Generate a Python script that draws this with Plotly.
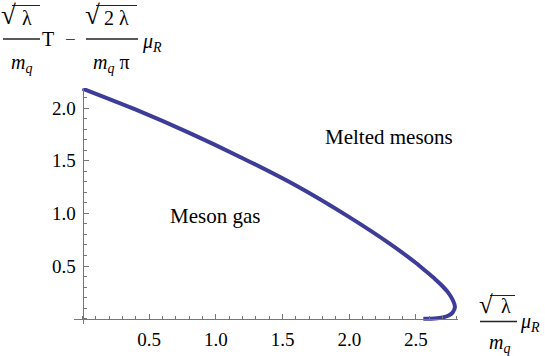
import plotly.graph_objects as go

# phase boundary
mu_r = [0.0, 0.4, 0.8, 1.2, 1.6, 2.0, 2.3, 2.5, 2.575, 2.64, 2.69, 2.74, 2.775, 2.792, 2.775, 2.745, 2.70, 2.64, 2.555]
temp = [2.184, 1.984, 1.764, 1.524, 1.264, 0.964, 0.715, 0.529, 0.45, 0.38, 0.32, 0.25, 0.18, 0.11, 0.06, 0.03, 0.012, 0.003, 0.0]

x_ticks = [0.5, 1.0, 1.5, 2.0, 2.5]
y_ticks = [0.5, 1.0, 1.5, 2.0]

W, H = 545, 356
L, T, PW, PH = 74, 88, 384, 236
X_RANGE = [-0.064, 2.815]
Y_RANGE = [-0.05, 2.19]

SERIF = "Liberation Serif"
LINE_COLOR = "#3d3d99"
AXIS_COLOR = "#777777"


def px(xp):
    return (xp - L) / PW


def py(yp):
    return (T + PH - yp) / PH


def label(fig, text, x, y, size=19, color="black"):
    fig.add_annotation(x=px(x), y=py(y), xref="paper", yref="paper", text=text,
                       showarrow=False, xanchor="center", yanchor="middle",
                       font=dict(family=SERIF, size=size, color=color))


def hline(fig, x0, x1, y, width=1.3):
    fig.add_shape(type="line", xref="paper", yref="paper",
                  x0=px(x0), x1=px(x1), y0=py(y), y1=py(y),
                  line=dict(color="#222222", width=width))


fig = go.Figure()
fig.add_trace(go.Scatter(x=mu_r, y=temp, mode="lines",
                         line=dict(color=LINE_COLOR, width=4, shape="spline", smoothing=0.6),
                         cliponaxis=False, hoverinfo="skip"))

axis_common = dict(showgrid=False, zeroline=False, showline=True, linecolor=AXIS_COLOR, linewidth=1,
                   ticks="inside", ticklen=5, tickcolor=AXIS_COLOR, tickwidth=1,
                   tickfont=dict(family=SERIF, size=19, color="black"),
                   tickmode="array", tickformat=".1f", automargin=False,
                   minor=dict(ticks="inside", ticklen=3, tickcolor=AXIS_COLOR, dtick=0.1, tick0=0))

fig.update_xaxes(range=X_RANGE, tickvals=x_ticks, anchor="free",
                 position=-Y_RANGE[0] / (Y_RANGE[1] - Y_RANGE[0]), ticklabelstandoff=3, **axis_common)
fig.update_yaxes(range=Y_RANGE, tickvals=y_ticks, anchor="free",
                 position=-X_RANGE[0] / (X_RANGE[1] - X_RANGE[0]), ticklabelstandoff=3, **axis_common)

fig.update_layout(width=W, height=H, margin=dict(l=L, r=W - L - PW, t=T, b=H - T - PH),
                  plot_bgcolor="white", paper_bgcolor="white", showlegend=False,
                  font=dict(family=SERIF))

# region labels
label(fig, "Melted mesons", 389, 137, size=21)
label(fig, "Meson gas", 215, 216, size=21)

# y axis title: sqrt(lambda)/m_q T - sqrt(2 lambda)/(m_q pi) mu_R
label(fig, "√", 8, 15, size=27)
hline(fig, 12, 40, 5.5, width=1)
label(fig, "λ", 27, 18, size=20)
hline(fig, 3, 40, 39)
label(fig, "<i>m</i><sub><i>q</i></sub>", 21, 63, size=20)
label(fig, "T", 47.5, 39, size=20)
label(fig, "−", 70, 39, size=19, color="#444444")
label(fig, "√", 92, 15, size=27)
hline(fig, 96, 137, 5.5, width=1)
label(fig, "2 λ", 116, 18, size=20)
hline(fig, 86, 138, 39)
label(fig, "<i>m</i><sub><i>q</i></sub> π", 111, 63, size=20)
label(fig, "<i>μ</i><sub><i>R</i></sub>", 152, 42, size=20)

# x axis title: sqrt(lambda)/m_q mu_R
label(fig, "√", 486, 304, size=25)
hline(fig, 490, 515, 295.5, width=1)
label(fig, "λ", 506, 306, size=20)
hline(fig, 480, 517, 321.5)
label(fig, "<i>m</i><sub><i>q</i></sub>", 499, 343, size=20)
label(fig, "<i>μ</i><sub><i>R</i></sub>", 530, 322, size=20)

fig.write_html("out.html", config={"displayModeBar": False},
               post_script="document.body.style.margin='0';")
